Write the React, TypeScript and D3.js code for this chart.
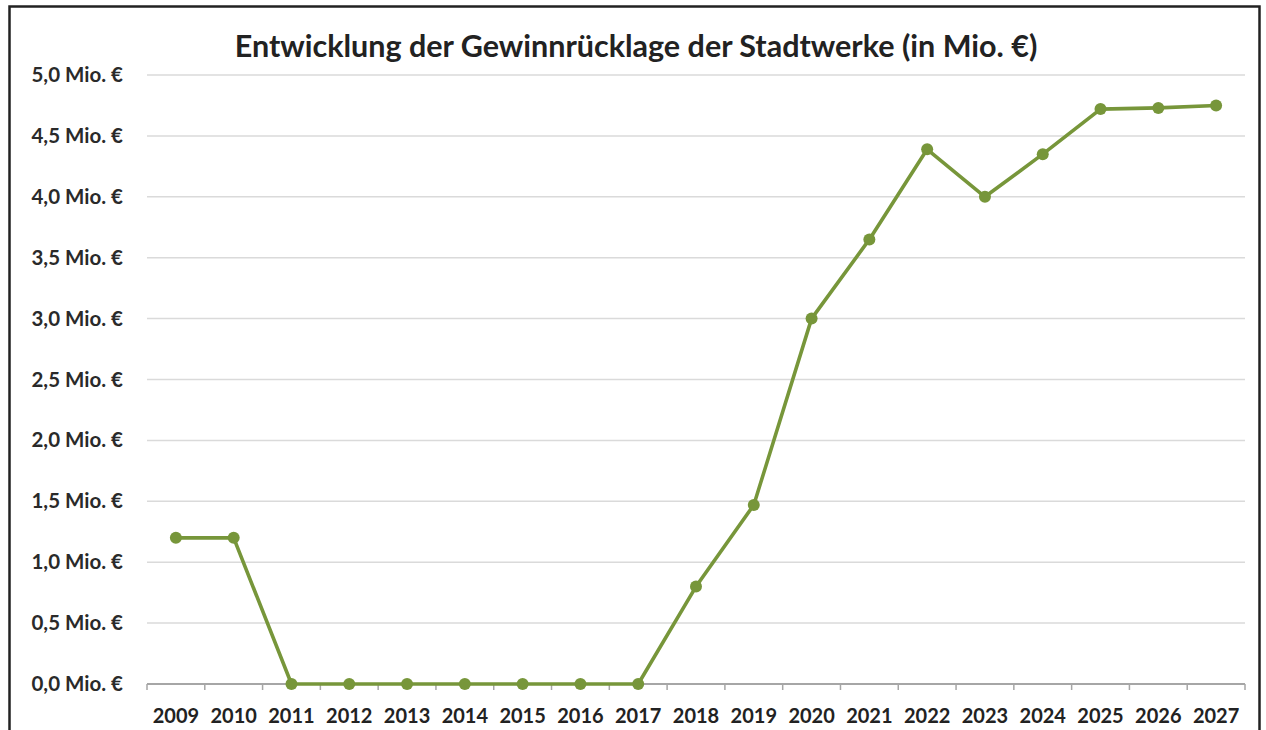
import React from "react";
import * as d3 from "d3";

const years = ["2009","2010","2011","2012","2013","2014","2015","2016","2017","2018","2019","2020","2021","2022","2023","2024","2025","2026","2027"];
const values = [1.2, 1.2, 0, 0, 0, 0, 0, 0, 0, 0.8, 1.47, 3.0, 3.65, 4.39, 4.0, 4.35, 4.72, 4.73, 4.75];
const yTicks = [0, 0.5, 1, 1.5, 2, 2.5, 3, 3.5, 4, 4.5, 5];
const title = "Entwicklung der Gewinnrücklage der Stadtwerke (in Mio. €)";

const W = 1266, H = 730;
const left = 147, right = 1245, top = 75, bottom = 684;
const color = "#77963A";
const font = "Lato, 'Open Sans', sans-serif";

export default function App() {
  const x = d3.scaleBand<string>().domain(years).range([left, right]);
  const y = d3.scaleLinear().domain([0, 5]).range([bottom, top]);
  const line = d3.line<number>()
    .x((_, i) => (x(years[i]) as number) + x.bandwidth() / 2)
    .y(d => y(d));
  const fmt = (v: number) => v.toFixed(1).replace(".", ",") + " Mio. €";
  const boundaries = years.map(yr => x(yr) as number).concat([right]);
  return (
    <div style={{ position: "fixed", left: 0, top: 0, width: W, height: H, background: "#fff" }}>
      <svg width={W} height={H} style={{ display: "block" }}>
        <rect x={0} y={0} width={W} height={H} fill="#fff" />
        <rect x={9.5} y={6.5} width={1250} height={740} fill="#fff" stroke="#222" strokeWidth={2.5} />
        <text x={636} y={57} textAnchor="middle" fontFamily={font} fontWeight={700} fontSize={30.5} fill="#222">{title}</text>
        {yTicks.map(t => (
          <g key={t}>
            {t > 0 && <line x1={left} x2={right} y1={y(t)} y2={y(t)} stroke="#dadada" strokeWidth={1.5} />}
            <text x={123} y={y(t) + 7} textAnchor="end" fontFamily={font} fontWeight={700} fontSize={20.5} fill="#2a2a2a">{fmt(t)}</text>
          </g>
        ))}
        <line x1={left} x2={right} y1={bottom} y2={bottom} stroke="#a6a6a6" strokeWidth={2} />
        {boundaries.map((b, i) => (
          <line key={i} x1={b} x2={b} y1={bottom} y2={bottom + 6} stroke="#a6a6a6" strokeWidth={1.5} />
        ))}
        {years.map(yr => (
          <text key={yr} x={(x(yr) as number) + x.bandwidth() / 2} y={723} textAnchor="middle" fontFamily={font} fontWeight={700} fontSize={20} fill="#222">{yr}</text>
        ))}
        <path d={line(values) || ""} fill="none" stroke={color} strokeWidth={3.6} strokeLinejoin="round" />
        {values.map((v, i) => (
          <circle key={i} cx={(x(years[i]) as number) + x.bandwidth() / 2} cy={y(v)} r={6} fill={color} />
        ))}
      </svg>
    </div>
  );
}
